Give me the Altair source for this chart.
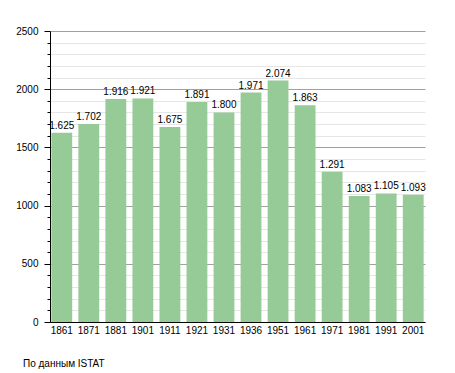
import altair as alt
import pandas as pd

years = ["1861", "1871", "1881", "1901", "1911", "1921", "1931", "1936",
         "1951", "1961", "1971", "1981", "1991", "2001"]
population = [1625, 1702, 1916, 1921, 1675, 1891, 1800, 1971,
              2074, 1863, 1291, 1083, 1105, 1093]
y_ticks = list(range(0, 2501, 100))

df = pd.DataFrame({
    "year": years,
    "pop": population,
    "label": [f"{v:,}".replace(",", ".") for v in population],
})

FONT = "Liberation Sans"

y_scale = alt.Scale(domain=[0, 2500], nice=False, zero=True)
x_scale = alt.Scale(paddingInner=0.23, paddingOuter=0.05)

base = alt.Chart(df).encode(
    x=alt.X("year:N", sort=years, scale=x_scale,
            axis=alt.Axis(title=None, labelAngle=0, ticks=False,
                          domainColor="black", labelColor="black",
                          labelFontSize=10, labelPadding=3, labelFont=FONT)),
    y=alt.Y("pop:Q", scale=y_scale,
            axis=alt.Axis(title=None, values=y_ticks, format="d",
                          labelExpr="datum.value % 500 === 0 ? datum.label : ''",
                          tickSize=alt.condition("datum.value % 500 === 0", alt.value(6), alt.value(3)),
                          tickColor="black", domainColor="black",
                          labelColor="black", labelFontSize=10, labelFont=FONT,
                          labelPadding=6, labelOverlap=False,
                          grid=True,
                          gridColor=alt.condition("datum.value % 500 === 0", alt.value("#a0a0a0"), alt.value("#e6e6e6")))),
)

bars = base.mark_bar(color="#96ca96")

labels = base.mark_text(baseline="alphabetic", dy=-4, fontSize=10,
                        font=FONT, color="black").encode(text="label:N")

chart = (bars + labels).properties(
    width=375, height=291,
    padding={"left": 7, "top": 18, "right": 5, "bottom": 5},
    title=alt.TitleParams("По данным ISTAT", orient="bottom", anchor="start",
                          frame="group", dx=-27, offset=24, fontSize=10,
                          font=FONT, fontWeight="normal", color="black"),
).configure_view(stroke=None).configure_axis(gridWidth=1)

chart.save("out.html", embed_options={"renderer": "svg", "actions": False})
